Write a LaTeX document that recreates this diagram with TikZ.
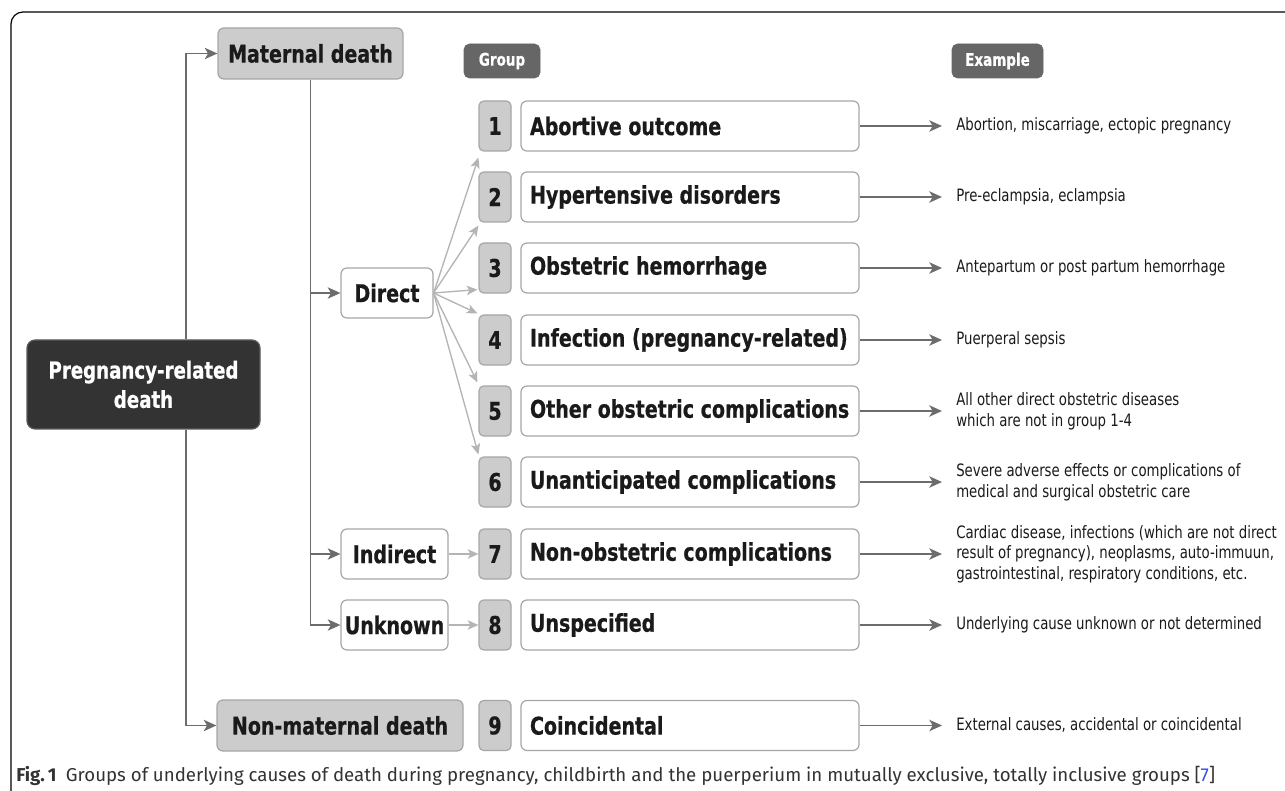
\documentclass[tikz,border=0pt]{standalone}
\usepackage{fontspec}
\usetikzlibrary{arrows.meta,calc}
\newfontfamily\df[FakeStretch=0.78,BoldFeatures={FakeBold=0.6}]{DejaVu Sans}
\newfontfamily\capfont{Fira Sans}
\definecolor{lineg}{HTML}{6C6C6C}
\definecolor{lightg}{HTML}{B4B4B4}
\definecolor{boxg}{HTML}{A6A6A6}
\definecolor{numg}{HTML}{CCCCCC}
\definecolor{darkbox}{HTML}{333333}
\definecolor{hdrg}{HTML}{666666}
\definecolor{txt}{HTML}{1A1A1A}
\definecolor{captxt}{HTML}{333333}
\definecolor{linkblue}{HTML}{3A4FE0}
\begin{document}
\begin{tikzpicture}[x=0.75pt,y=-0.75pt,
  box/.style={draw=boxg, line width=0.9pt, rounded corners=4.5pt, inner sep=0pt,
    font=\df\bfseries\fontsize{18.3pt}{21pt}\selectfont, text=txt},
  numbox/.style={box, fill=numg, minimum width=24pt, minimum height=37.5pt, rounded corners=3.5pt},
  lblbox/.style={box, fill=white, minimum height=37.5pt, inner xsep=6.75pt},
  catbox/.style={box, fill=white, minimum height=37.5pt},
  greybox/.style={box, fill=numg, minimum height=38.25pt},
  hdr/.style={fill=hdrg, draw=hdrg, rounded corners=4pt, text=white, inner sep=0pt,
    font=\df\bfseries\fontsize{13pt}{15pt}\selectfont, minimum height=25.5pt},
  conn/.style={draw=lineg, line width=1.3pt},
  arr/.style={conn, -{Stealth[length=9.5pt,width=8.5pt,inset=2.5pt]}},
  light/.style={draw=lightg, line width=1pt, -{Stealth[length=8pt,width=7pt,inset=2pt]}},
  ex/.style={anchor=west, inner sep=0pt, align=left, font=\df\fontsize{12.8pt}{15.5pt}\selectfont, text=txt}
]
\useasboundingbox (0,0) rectangle (1285,791);
\fill[white] (0,0) rectangle (1285,791);
\begin{scope}
\clip (0,0) rectangle (1285,791);
\draw[line width=0.9pt, rounded corners=9pt] (11,12) rectangle (1330,840);
\end{scope}

% headers
\node[hdr, minimum width=57pt] (hgroup) at (502,61) {Group};
\node[hdr, minimum width=68.25pt] (hex) at (997.5,61) {Example};

% main nodes
\node[box, fill=darkbox, draw=darkbox!80!white, text=white, rounded corners=6pt, align=center,
  minimum width=174.75pt, minimum height=66.75pt, font=\df\bfseries\fontsize{17.5pt}{22pt}\selectfont]
  (prd) at (143.5,384.5) {Pregnancy-related\\death};
\node[greybox, minimum width=138.75pt] (mat) at (310.5,53.5) {Maternal death};
\node[greybox, minimum width=184.5pt] (nonm) at (340,725.5) {Non-maternal death};
\node[catbox, minimum width=69pt] (dir) at (387,293) {Direct};
\node[catbox, minimum width=80.25pt] (ind) at (394.5,554) {Indirect};
\node[catbox, minimum width=80.25pt] (unk) at (394.5,625) {Unknown};

% groups
\foreach \i/\y/\t in {1/126/Abortive outcome,
                      2/197/Hypertensive disorders,
                      3/268/Obstetric hemorrhage,
                      4/340/Infection (pregnancy-related),
                      5/411/Other obstetric complications,
                      6/482/Unanticipated complications,
                      7/554/Non-obstetric complications,
                      8/625/Unspecified,
                      9/725.5/Coincidental}{
  \node[numbox] (n\i) at (495,\y) {\i};
  \node[lblbox] (l\i) at (690,\y) {\makebox[240pt][l]{\t}};
}

% examples
\node[ex] (e1) at (956,126) {Abortion, miscarriage, ectopic pregnancy};
\node[ex] (e2) at (956,197) {Pre-eclampsia, eclampsia};
\node[ex] (e3) at (956,268) {Antepartum or post partum hemorrhage};
\node[ex] (e4) at (956,340) {Puerperal sepsis};
\node[ex] (e5) at (956,411) {All other direct obstetric diseases\\which are not in group 1-4};
\node[ex] (e6) at (956,482) {Severe adverse effects or complications of\\medical and surgical obstetric care};
\node[ex] (e7) at (956,554) {Cardiac disease, infections (which are not direct\\result of pregnancy), neoplasms, auto-immuun,\\gastrointestinal, respiratory conditions, etc.};
\node[ex] (e8) at (956,625) {Underlying cause unknown or not determined};
\node[ex] (e9) at (956,725.5) {External causes, accidental or coincidental};

\foreach \i in {1,...,9}{
  \draw[arr, shorten >=10.5pt] (l\i.east) -- (e\i.west);
}

% tree connectors
\coordinate (cx) at (186,0);
\draw[arr] (prd.north -| cx) |- (mat.west);
\draw[arr] (prd.south -| cx) |- (nonm.west);
\draw[arr] (mat.south) |- (unk.west);
\draw[arr] (dir.west -| mat.south) -- (dir.west);
\draw[arr] (ind.west -| mat.south) -- (ind.west);

% fan from Direct
\draw[light] (dir.east) -- ($(n1.south west)+(0,6)$);
\draw[light] (dir.east) -- ($(n2.south west)+(0,3)$);
\draw[light] (dir.east) -- ($(n3.south west)+(-1,-4)$);
\draw[light] (dir.east) -- ($(n4.north west)+(-1,-1)$);
\draw[light] (dir.east) -- ($(n5.north west)+(-1,-3)$);
\draw[light] (dir.east) -- ($(n6.north west)+(0,-2)$);
\draw[light] (ind.east) -- (n7.west);
\draw[light] (unk.east) -- (n8.west);

% caption
\node[anchor=west, inner sep=0pt, text=captxt, font=\capfont\fontsize{14pt}{16pt}\selectfont] (cap) at (16,776)
  {{\bfseries Fig.\,1}\hspace{7pt}Groups of underlying causes of death during pregnancy, childbirth and the puerperium in mutually exclusive, totally inclusive groups [{\color{linkblue}7}]};
\end{tikzpicture}
\end{document}
